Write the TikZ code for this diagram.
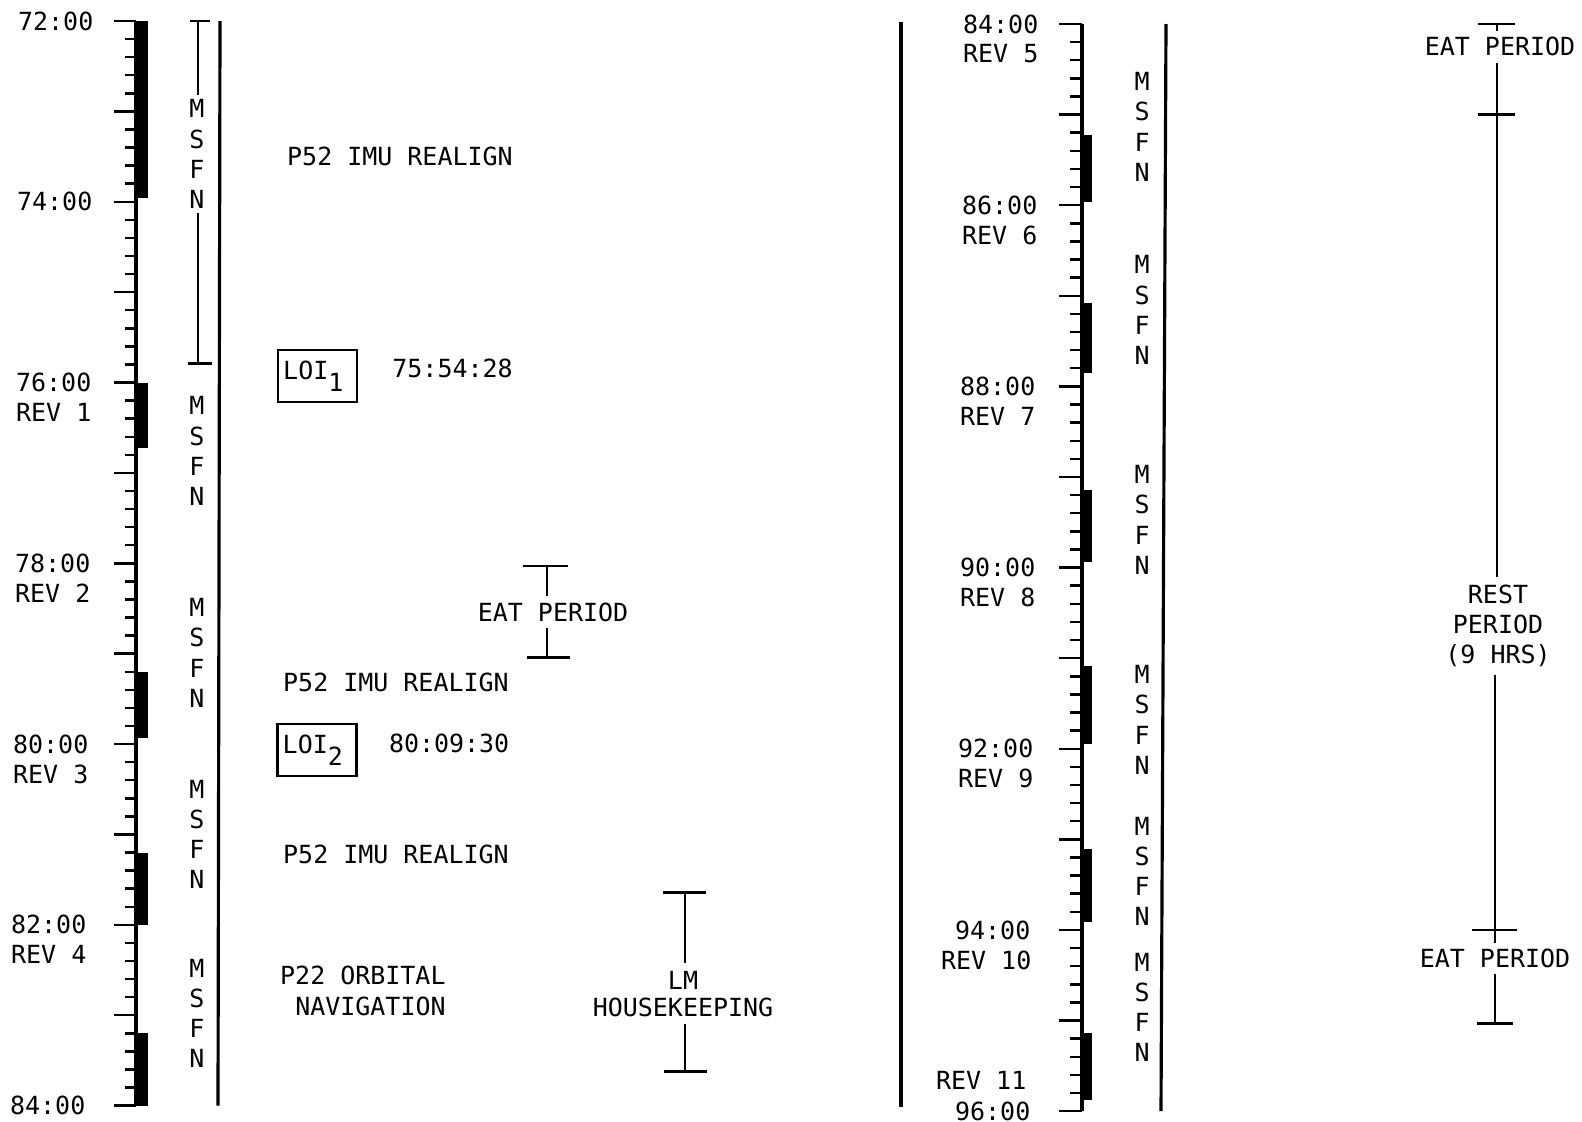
\documentclass[tikz,border=0pt]{standalone}
\usepackage{fontspec}
\newfontfamily\chartfont{DejaVu Sans Mono}

\begin{document}
\begin{tikzpicture}[
  x=0.01cm, y=-0.01cm,
  font=\chartfont\fontsize{7.1}{8.6}\selectfont,
  axisline/.style={line width=0.9pt},
  tickline/.style={line width=0.7pt},
  lbl/.style={inner sep=0pt},
  msfnstack/.style={align=center, inner sep=1pt},
  spanline/.style={line width=0.8pt},
  spanlbl/.style={align=center, inner sep=1.6pt},
  loibox/.style={draw, line width=0.8pt, minimum width=0.79cm, minimum height=0.52cm, inner sep=0pt},
]
\useasboundingbox (0,0) rectangle (1582,1122);

% separator between the two halves
\draw[axisline] (901,22) -- (901,1107);

% ---------------------------------------------------------------
% 72:00 - 84:00  (y in hours after 72:00)
% ---------------------------------------------------------------
\begin{scope}[yshift=-0.21cm, y=-0.9033cm]
  \draw[axisline] (136,0) -- (136,12);
  \foreach \i in {0,...,60}
    \draw[tickline] (125,\i/5) -- (136,\i/5);
  \foreach \h in {0,...,12}
    \draw[tickline] (114,\h) -- (136,\h);
  % station coverage bars
  \foreach \a/\b in {0/1.96, 4.0/4.72, 7.2/7.93, 9.21/10.0, 11.2/12}
    \fill (136,\a) rectangle (148,\b);

  % hour marks
  \foreach \h/\xr in {0/94, 2/93, 4/92, 6/91, 8/89, 10/87, 12/86} {
    \pgfmathtruncatemacro\hh{72+\h}
    \node[lbl, anchor=east] (lt\h) at (\xr,\h) {\hh:00};
  }
  \foreach \h/\xr/\n in {4/92/1, 6/91/2, 8/89/3, 10/87/4}
    \node[lbl, anchor=east] (lrev\n) at (\xr,\h+0.332) {REV \n};

  \draw[axisline] (220,0) -- (218,12);

  % MSFN
  \node[msfnstack] (lmA) at (197,1.472) {M\\S\\F\\N};
  \node[msfnstack] (lmB) at (197,4.76) {M\\S\\F\\N};
  \node[msfnstack] (lmC) at (197,6.99) {M\\S\\F\\N};
  \node[msfnstack] (lmD) at (197,9.0) {M\\S\\F\\N};
  \node[msfnstack] (lmE) at (197,10.98) {M\\S\\F\\N};
  \coordinate (lmAtop) at (198,0);
  \coordinate (lmAbot) at (198,3.79);
  \draw[spanline] (190,0) -- (210,0);
  \draw[spanline] (188,3.79) -- (212,3.79);
  \draw[spanline] (lmAtop) -- (lmAtop |- lmA.north);
  \draw[spanline] (lmAbot |- lmA.south) -- (lmAbot);

  % events
  \node[lbl, anchor=west] (imuA) at (286.5,1.499) {P52 IMU REALIGN};
  \node[loibox] (loiA) at (317.5,3.928) {LOI\raisebox{-3.4pt}{1}\kern2.4pt};
  \node[lbl, anchor=west] (loiAt) at (391.7,3.845) {75:54:28};

  \node[spanlbl] (eatA) at (553,6.539) {EAT PERIOD};
  \coordinate (eatAtop) at (547,6.03);
  \coordinate (eatAbot) at (547,7.044);
  \draw[spanline] (523,6.03) -- (568,6.03);
  \draw[spanline] (527,7.044) -- (570,7.044);
  \draw[spanline] (eatAtop) -- (eatAtop |- eatA.north);
  \draw[spanline] (eatAbot |- eatA.south) -- (eatAbot);

  \node[lbl, anchor=west] (imuB) at (282.5,7.318) {P52 IMU REALIGN};
  \node[loibox] (loiB) at (317,8.065) {LOI\raisebox{-3.4pt}{2}\kern2.4pt};
  \node[lbl, anchor=west] (loiBt) at (388.3,7.996) {80:09:30};
  \node[lbl, anchor=west] (imuC) at (282.5,9.217) {P52 IMU REALIGN};
  \node[lbl, anchor=west] (navA) at (279.5,10.558) {P22 ORBITAL};
  \node[lbl, anchor=west] (navB) at (294.6,10.904) {NAVIGATION};

  \node[spanlbl, inner sep=2pt, font=\chartfont\fontsize{7.1}{7.7}\selectfont] (lmhk) at (683,10.764) {LM\\HOUSEKEEPING};
  \coordinate (lmhkTop) at (685,9.639);
  \coordinate (lmhkBot) at (685,11.624);
  \draw[spanline] (663,9.639) -- (706,9.639);
  \draw[spanline] (664,11.624) -- (707,11.624);
  \draw[spanline] (lmhkTop) -- (lmhkTop |- lmhk.north);
  \draw[spanline] (lmhkBot |- lmhk.south) -- (lmhkBot);
\end{scope}

% ---------------------------------------------------------------
% 84:00 - 96:00  (y in hours after 84:00)
% ---------------------------------------------------------------
\begin{scope}[yshift=-0.24cm, y=-0.9054cm]
  \draw[axisline] (1082,0) -- (1082,12);
  \foreach \i in {0,...,60}
    \draw[tickline] (1070,\i/5) -- (1082,\i/5);
  \foreach \h in {0,...,12}
    \draw[tickline] (1059,\h) -- (1082,\h);
  \foreach \a/\b in {1.226/1.96, 3.08/3.855, 5.14/5.94, 7.09/7.95, 9.11/9.91, 11.14/11.88}
    \fill (1082,\a) rectangle (1092,\b);

  % hour marks
  \foreach \h/\xr in {0/1039, 2/1038, 4/1036, 6/1036, 8/1034, 10/1031, 12/1031} {
    \pgfmathtruncatemacro\hh{84+\h}
    \node[lbl, anchor=east] (rt\h) at (\xr,\h) {\hh:00};
  }
  \foreach \h/\xr/\n in {0/1039/5, 2/1038/6, 4/1036/7, 6/1036/8, 8/1034/9, 10/1032/10}
    \node[lbl, anchor=east] (rrev\n) at (\xr,\h+0.331) {REV \n};
  \node[lbl, anchor=east] (rrev11) at (1027,11.66) {REV 11};

  \draw[axisline] (1166,0) -- (1161,12);

  % MSFN
  \node[msfnstack] (rmA) at (1142,1.135) {M\\S\\F\\N};
  \node[msfnstack] (rmB) at (1142,3.158) {M\\S\\F\\N};
  \node[msfnstack] (rmC) at (1142,5.475) {M\\S\\F\\N};
  \node[msfnstack] (rmD) at (1142,7.682) {M\\S\\F\\N};
  \node[msfnstack] (rmE) at (1142,9.354) {M\\S\\F\\N};
  \node[msfnstack] (rmF) at (1142,10.855) {M\\S\\F\\N};

  % eat / rest periods
  \coordinate (restTop) at (1497,0);
  \coordinate (restEnd) at (1495,10);
  \coordinate (restBot) at (1495,11.034);
  \draw[spanline] (1478,0) -- (1515,0);
  \draw[spanline] (1478,1) -- (1515,1);
  \draw[spanline] (1472,10) -- (1517,10);
  \draw[spanline] (1477,11.034) -- (1513,11.034);
  \node[spanlbl] (eatC) at (1500,0.251) {EAT PERIOD};
  \node[spanlbl, inner sep=2pt] (rest) at (1498,6.643) {REST\\PERIOD\\(9 HRS)};
  \node[spanlbl] (eatD) at (1495,10.316) {EAT PERIOD};
  \draw[spanline] (restTop) -- (restTop |- eatC.north);
  \draw[spanline] (restTop |- eatC.south) -- (restTop |- rest.north);
  \draw[spanline] (restEnd |- rest.south) -- (restEnd |- eatD.north);
  \draw[spanline] (restEnd |- eatD.south) -- (restBot);
\end{scope}

\end{tikzpicture}
\end{document}
